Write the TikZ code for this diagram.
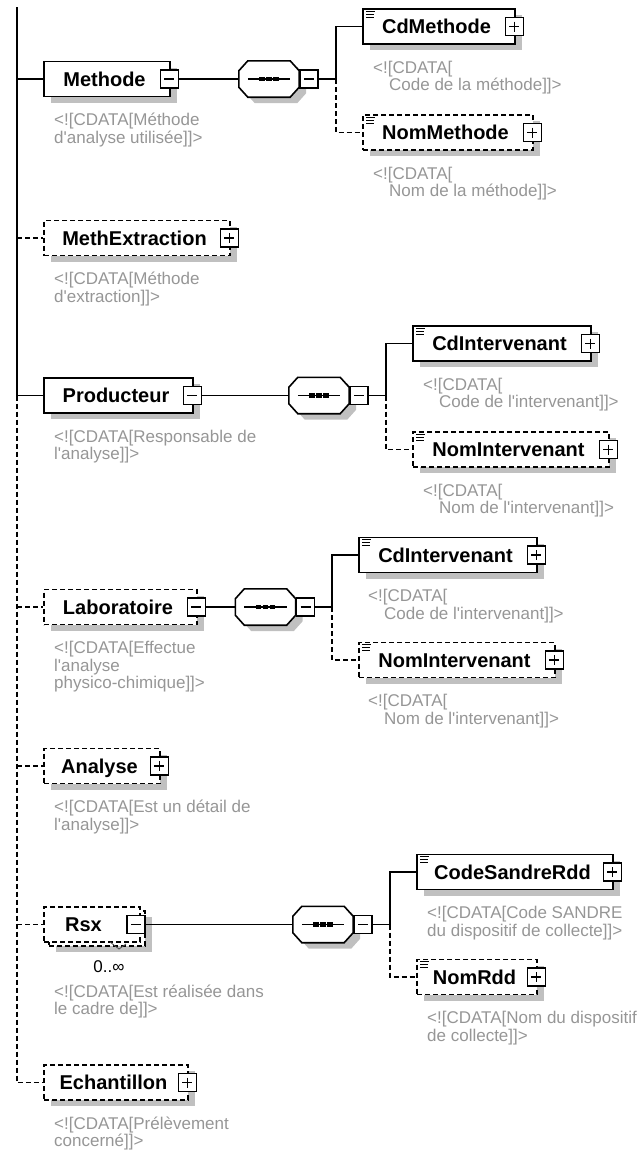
\documentclass[tikz,border=0pt]{standalone}
\usepackage{fontspec}
\setmainfont{Liberation Sans}[Ligatures=TeXOff]
\usetikzlibrary{shadows}
\definecolor{cdatagray}{RGB}{150,150,150}
\definecolor{shadegray}{RGB}{192,192,192}
\tikzset{
  conn/.style={line width=1.6pt, black},
  dsh/.style={dash pattern=on 5pt off 3pt},
  boxbase/.style={draw, line width=1.6pt, fill=white, inner sep=0pt, minimum height=35pt,
     text height=14pt, text depth=0pt, font=\fontsize{20}{24}\selectfont\bfseries},
  shad/.style={general shadow={fill=shadegray, shadow xshift=7pt, shadow yshift=-6pt}},
  elembox/.style={boxbase, shad},
  optbox/.style={boxbase, shad, dsh},
  btn/.style={draw, solid, fill=white, line width=1.5pt, minimum size=18pt, inner sep=0pt},
  btnminus/.style={btn, path picture={\draw[line width=1.4pt] ([xshift=4pt]path picture bounding box.west) -- ([xshift=-4pt]path picture bounding box.east);}},
  btnplus/.style={btn, path picture={\draw[line width=1.4pt] ([xshift=4pt]path picture bounding box.west) -- ([xshift=-4pt]path picture bounding box.east) ([yshift=-4pt]path picture bounding box.north) -- ([yshift=4pt]path picture bounding box.south);}},
  cmt/.style={anchor=north west, inner sep=0pt, align=left, text=cdatagray, font=\fontsize{17}{17.5}\selectfont},
  seqbox/.style={inner sep=0pt, minimum width=60pt, minimum height=36pt},
  icon/.style={line width=0.9pt},
}
\newcommand\octo[1]{([xshift=9pt]#1.north west) -- ([xshift=-9pt]#1.north east) -- ([yshift=-10pt]#1.north east) -- ([yshift=10pt]#1.south east) -- ([xshift=-9pt]#1.south east) -- ([xshift=9pt]#1.south west) -- ([yshift=10pt]#1.south west) -- ([yshift=-10pt]#1.north west) -- cycle}
\newcommand\seqgroup[3]{%
  \node[seqbox] (#1) at (#2,#3) {};
  \fill[shadegray, transform canvas={xshift=7pt,yshift=-6pt}] \octo{#1};
  \draw[line width=1.6pt, fill=white] \octo{#1};
  \draw[line width=1.4pt] ([xshift=9pt]#1.west) -- ([xshift=-9pt]#1.east);
  \foreach \dx in {-7,0,7} {\fill ([xshift=\dx pt]#1.center) ++(-2.7pt,-2.2pt) rectangle ++(5.4pt,4.4pt);}
  \node[btnminus] (#1b) at ([xshift=10pt]#1.east) {};
}
\newcommand\stype[1]{%
  \draw[icon] ([shift={(4pt,-3pt)}]#1.north west) -- ++(9pt,0pt);
  \draw[icon] ([shift={(4pt,-6pt)}]#1.north west) -- ++(8pt,0pt);
  \draw[icon] ([shift={(4pt,-9pt)}]#1.north west) -- ++(8pt,0pt);
}
\newcommand\lb[1]{#1\hspace*{5pt}}
\begin{document}
\begin{tikzpicture}[x=1pt,y=-1pt]
\useasboundingbox (0,0) rectangle (643,1152);

% ---------- parent elements ----------
\node[elembox, minimum width=126pt] (methode) at (107,79) {\lb{Methode}};
\node[optbox, minimum width=186pt] (methext) at (137,238) {\lb{MethExtraction}};
\node[elembox, minimum width=149pt] (producteur) at (118.5,395.5) {\lb{Producteur}};
\node[optbox, minimum width=153pt] (labo) at (120.5,607) {\lb{Laboratoire}};
\node[optbox, minimum width=116pt] (analyse) at (102,766) {\lb{Analyse}};
\node[optbox, minimum width=96pt] (rsxback) at (97,928.5) {};
\node[boxbase, dsh, minimum width=96pt] (rsx) at (92,924.5) {Rsx\hspace*{17pt}};
\node[optbox, minimum width=144pt] (echantillon) at (116,1082.5) {\lb{Echantillon}};

% ---------- child elements ----------
\node[elembox, minimum width=152pt] (cdmethode) at (439,26.5) {\lb{CdMethode}};
\node[optbox, minimum width=170pt] (nommethode) at (448,132.5) {\lb{NomMethode}};
\node[elembox, minimum width=178pt] (cdintp) at (502,343.5) {\lb{CdIntervenant}};
\node[optbox, minimum width=196pt] (nomintp) at (511,449.5) {\lb{NomIntervenant}};
\node[elembox, minimum width=178pt] (cdintl) at (448,555) {\lb{CdIntervenant}};
\node[optbox, minimum width=196pt] (nomintl) at (457,660) {\lb{NomIntervenant}};
\node[elembox, minimum width=196pt] (codesandre) at (515,872) {\lb{CodeSandreRdd}};
\node[optbox, minimum width=120pt] (nomrdd) at (477,977) {\lb{NomRdd}};

\foreach \n in {cdmethode,nommethode,cdintp,nomintp,cdintl,nomintl,codesandre,nomrdd} {\stype{\n}}

% ---------- buttons ----------
\node[btnminus] (methodeb) at ([xshift=-1.5pt]methode.east) {};
\node[btnplus] (methextb) at ([xshift=-1.5pt]methext.east) {};
\node[btnminus] (producteurb) at ([xshift=-1.5pt]producteur.east) {};
\node[btnminus] (labob) at ([xshift=-1.5pt]labo.east) {};
\node[btnplus] (analyseb) at ([xshift=-1.5pt]analyse.east) {};
\node[btnminus] (rsxb) at (136,924.5) {};
\node[btnplus] (echantillonb) at ([xshift=-1.5pt]echantillon.east) {};
\node[btnplus] (cdmethodeb) at ([xshift=-1.5pt]cdmethode.east) {};
\node[btnplus] (nommethodeb) at ([xshift=-1.5pt]nommethode.east) {};
\node[btnplus] (cdintpb) at ([xshift=-1.5pt]cdintp.east) {};
\node[btnplus] (nomintpb) at ([xshift=-1.5pt]nomintp.east) {};
\node[btnplus] (cdintlb) at ([xshift=-1.5pt]cdintl.east) {};
\node[btnplus] (nomintlb) at ([xshift=-1.5pt]nomintl.east) {};
\node[btnplus] (codesandreb) at ([xshift=-1.5pt]codesandre.east) {};
\node[btnplus] (nomrddb) at ([xshift=-1.5pt]nomrdd.east) {};

% ---------- sequences ----------
\seqgroup{seqA}{269}{79}
\seqgroup{seqB}{319}{395.5}
\seqgroup{seqC}{265.5}{607}
\seqgroup{seqD}{323}{924.5}

% ---------- trunk ----------
\coordinate (trunktop) at (17,7);
\coordinate (jprod) at (trunktop |- producteur.west);
\draw[conn] (trunktop) -- (jprod) -- (producteur.west);
\draw[conn] (trunktop |- methode.west) -- (methode.west);
\draw[conn,dsh] (trunktop |- methext.west) -- (methext.west);
\draw[conn,dsh] (jprod) |- (echantillon.west);
\draw[conn,dsh] (trunktop |- labo.west) -- (labo.west);
\draw[conn,dsh] (trunktop |- analyse.west) -- (analyse.west);
\draw[conn,dsh] (trunktop |- rsx.west) -- (rsx.west);

% ---------- element to sequence ----------
\draw[conn] (methodeb.east) -- (seqA.west);
\draw[conn] (producteurb.east) -- (seqB.west);
\draw[conn] (labob.east) -- (seqC.west);
\draw[conn] (rsxb.east) -- (seqD.west);

% ---------- sequence branches ----------
\coordinate (brA) at (336,79);
\coordinate (brB) at (386,395.5);
\coordinate (brC) at (332,607);
\coordinate (brD) at (390,924.5);
\draw[conn] (seqAb.east) -- (brA) |- (cdmethode.west);
\draw[conn,dsh] (brA) |- (nommethode.west);
\draw[conn] (seqBb.east) -- (brB) |- (cdintp.west);
\draw[conn,dsh] (brB) |- (nomintp.west);
\draw[conn] (seqCb.east) -- (brC) |- (cdintl.west);
\draw[conn,dsh] (brC) |- (nomintl.west);
\draw[conn] (seqDb.east) -- (brD) |- (codesandre.west);
\draw[conn,dsh] (brD) |- (nomrdd.west);

% ---------- Rsx cardinality ----------
\draw[line width=0.8pt, black!70] (110,942) -- (119,949) -- (126,944);
\node[anchor=base, inner sep=0pt, font=\fontsize{17}{20}\selectfont] (rsxcard) at (109,972) {0..∞};

% ---------- comments ----------
\node[cmt] (cm1) at (54,112.5) {\rule{0pt}{13pt}<![CDATA[Méthode\\d'analyse utilisée]]>};
\node[cmt] (cm2) at (373,60) {\rule{0pt}{13pt}<![CDATA[\\\hspace*{16pt}Code de la méthode]]>};
\node[cmt] (cm3) at (373,166) {\rule{0pt}{13pt}<![CDATA[\\\hspace*{16pt}Nom de la méthode]]>};
\node[cmt] (cm4) at (54,271.5) {\rule{0pt}{13pt}<![CDATA[Méthode\\d'extraction]]>};
\node[cmt] (cm5) at (54,429) {\rule{0pt}{13pt}<![CDATA[Responsable de\\l'analyse]]>};
\node[cmt] (cm6) at (423,377) {\rule{0pt}{13pt}<![CDATA[\\\hspace*{16pt}Code de l'intervenant]]>};
\node[cmt] (cm7) at (423,483) {\rule{0pt}{13pt}<![CDATA[\\\hspace*{16pt}Nom de l'intervenant]]>};
\node[cmt] (cm8) at (54,640.5) {\rule{0pt}{13pt}<![CDATA[Effectue\\l'analyse\\physico-chimique]]>};
\node[cmt] (cm9) at (368,588.5) {\rule{0pt}{13pt}<![CDATA[\\\hspace*{16pt}Code de l'intervenant]]>};
\node[cmt] (cm10) at (368,693.5) {\rule{0pt}{13pt}<![CDATA[\\\hspace*{16pt}Nom de l'intervenant]]>};
\node[cmt] (cm11) at (54,799.5) {\rule{0pt}{13pt}<![CDATA[Est un détail de\\l'analyse]]>};
\node[cmt] (cm12) at (54,984) {\rule{0pt}{13pt}<![CDATA[Est réalisée dans\\le cadre de]]>};
\node[cmt] (cm13) at (427,905.5) {\rule{0pt}{13pt}<![CDATA[Code SANDRE\\du dispositif de collecte]]>};
\node[cmt] (cm14) at (427,1010.5) {\rule{0pt}{13pt}<![CDATA[Nom du dispositif\\de collecte]]>};
\node[cmt] (cm15) at (54,1116) {\rule{0pt}{13pt}<![CDATA[Prélèvement\\concerné]]>};
\end{tikzpicture}
\end{document}
